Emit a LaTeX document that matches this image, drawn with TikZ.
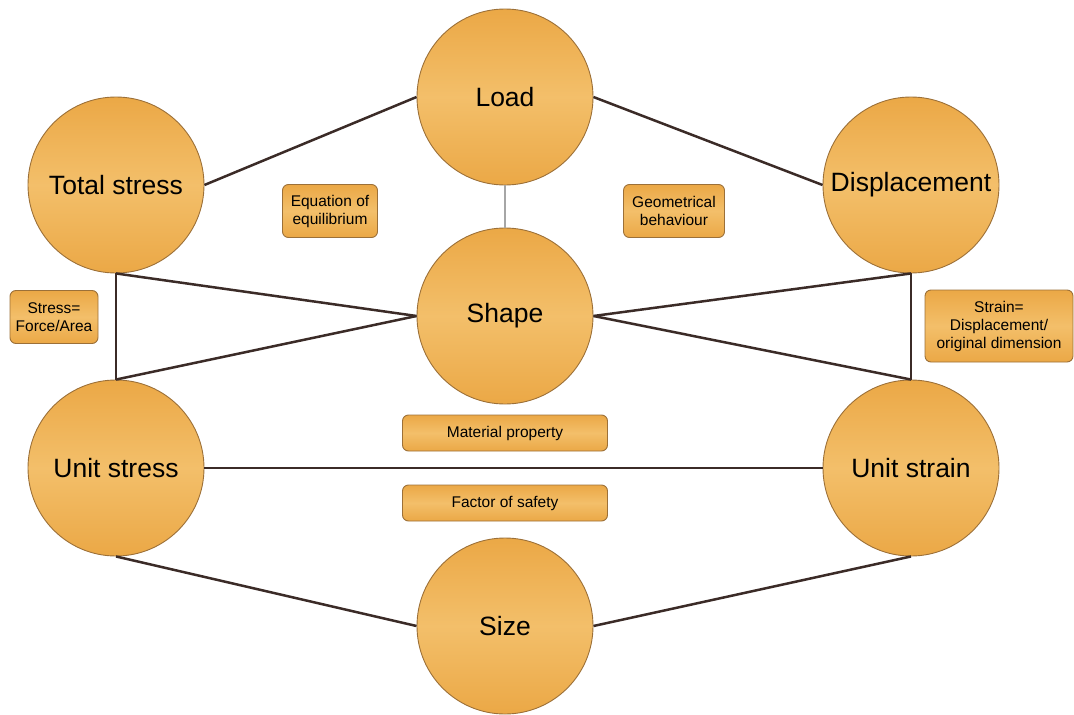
\documentclass[tikz,border=0pt]{standalone}
\usepackage{fontspec}
\setmainfont{Liberation Sans}
\begin{document}
\definecolor{orangeA}{HTML}{EBA846}
\definecolor{orangeB}{HTML}{F3BF6A}
\definecolor{rimc}{HTML}{9C7038}
\definecolor{linkc}{HTML}{3B2B27}
\begin{tikzpicture}[x=1pt,y=-1pt,
  topic/.style={circle, minimum size=176pt, inner sep=0pt, draw=rimc, line width=0.9pt,
    top color=orangeA, bottom color=orangeA, middle color=orangeB,
    font=\fontsize{26.5}{30}\selectfont},
  note/.style={rectangle, rounded corners=6pt, draw=rimc, line width=0.9pt,
    top color=orangeA, bottom color=orangeA, middle color=orangeB,
    align=center, inner sep=0pt, font=\fontsize{15.5}{18}\selectfont},
  link/.style={draw=linkc, line width=2.5pt},
  thin link/.style={draw=gray!70, line width=1.3pt}]
\useasboundingbox (0,0) rectangle (1074,715);

% concept circles
\node[topic] (load)  at (505,97)  {Load};
\node[topic] (total) at (116,185) {Total stress};
\node[topic] (disp)  at (911,185) {Displacement};
\node[topic] (shape) at (505,316) {Shape};
\node[topic] (ustress) at (116,468) {Unit stress};
\node[topic] (ustrain) at (911,468) {Unit strain};
\node[topic] (size)  at (505,626) {Size};

% connections
\draw[link] (total.east) -- (load.west);
\draw[link] (load.east) -- (disp.west);
\draw[thin link] (load.south) -- (shape.north);
\draw[link] (total.south) -- (shape.west);
\draw[link] (total.south) -- (ustress.north);
\draw[link] (ustress.north) -- (shape.west);
\draw[link] (disp.south) -- (shape.east);
\draw[link] (disp.south) -- (ustrain.north);
\draw[link] (ustrain.north) -- (shape.east);
\draw[link] (ustress.east) -- (ustrain.west);
\draw[link] (ustress.south) -- (size.west);
\draw[link] (ustrain.south) -- (size.east);

% annotation boxes
\node[note, minimum width=95pt, minimum height=53pt] (eq) at (330,211) {Equation of\\equilibrium};
\node[note, minimum width=101pt, minimum height=53pt] (geo) at (674,211) {Geometrical\\behaviour};
\node[note, minimum width=88pt, minimum height=53pt] (sfa) at (54,317) {Stress=\\Force/Area};
\node[note, minimum width=148pt, minimum height=72pt] (sdd) at (999,326) {Strain=\\Displacement/\\original dimension};
\node[note, minimum width=205pt, minimum height=36pt] (mat) at (505,433) {Material property};
\node[note, minimum width=205pt, minimum height=36pt] (fos) at (505,503) {Factor of safety};
\end{tikzpicture}
\end{document}
